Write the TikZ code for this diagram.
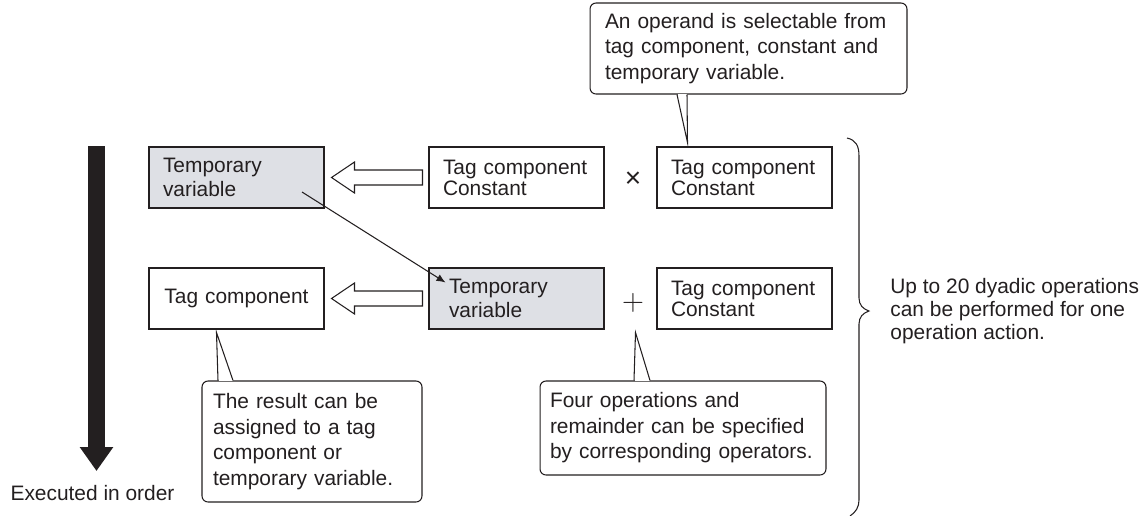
\documentclass[tikz,border=0pt]{standalone}
\usepackage{fontspec}
\setmainfont{Liberation Sans}
\usetikzlibrary{calc,arrows.meta}

\definecolor{ink}{RGB}{35,31,32}
\definecolor{tmpgray}{RGB}{222,224,229}

\tikzset{
  opbox/.style={draw, minimum width=3.5cm, minimum height=1.22cm,
    text width=2.94cm, inner xsep=0.28cm, align=left,
    font=\fontsize{11.9pt}{11.9pt}\selectfont},
  tmpbox/.style={opbox, fill=tmpgray, font=\fontsize{11.9pt}{13.6pt}\selectfont},
  note/.style={draw, fill=white, rounded corners=0.12cm, align=left,
    font=\fontsize{11.9pt}{14.5pt}\selectfont},
  hollow/.style={draw, fill=white, line join=miter},
}

\begin{document}
\begin{tikzpicture}[x=0.02cm,y=-0.02cm,color=ink,line width=0.6pt]
  \useasboundingbox (0,0) rectangle (1143,515);

  % first row
  \node[tmpbox] (T1) at (236.5,177.5) {Temporary\\variable};
  \node[opbox] (C1) at (516.5,177.5) {Tag component\\Constant};
  \node (times) at (633,180) {\fontsize{16pt}{16pt}\selectfont ×};
  \node[opbox] (C2) at (744.5,177.5) {Tag component\\Constant};

  % second row
  \node[opbox,align=center] (R) at (236.5,298.5) {Tag component};
  \node[tmpbox,text width=2.7cm,inner xsep=0.4cm] (T2) at (516.5,298.5) {Temporary\\variable};
  \node (plus) at (633,303) {\fontsize{17pt}{17pt}\selectfont$+$};
  \node[opbox] (C3) at (744.5,298.5) {Tag component\\Constant};

  % assignment arrows
  \foreach \dst/\src in {T1/C1,R/T2}
    \draw[hollow] ($(\src.west)+(-6,-7.5)$) -- ($(\dst.east)+(30,-7.5)$)
      -- ++(0,-8) -- ($(\dst.east)+(7,0)$) -- ++(23,15.5) -- ++(0,-8)
      -- ($(\src.west)+(-6,7.5)$) -- cycle;

  \coordinate (src) at ($(T1.center)+(65.5,14.5)$);
  \draw[-{Latex[length=0.18cm,width=0.15cm]}] (src) -- ($(T2.north west)+(17,15)$);

  % order of execution
  \node (ord) at (92.5,493) {\fontsize{11.9pt}{11.9pt}\selectfont Executed in order};
  \coordinate (otop) at (96.5,146);
  \coordinate (obot) at (96.5,471);
  \draw[line width=0.34cm,-{Triangle[length=0.48cm,width=0.64cm]}] (otop) -- (obot);

  % notes
  \node[note,text width=5.74cm,minimum height=1.82cm,inner xsep=0.3cm] (N1) at (748.5,48.5)
    {An operand is selectable from\\tag component, constant and\\temporary variable.};
  \node[note,text width=3.96cm,minimum height=2.42cm,inner xsep=0.22cm] (N2) at (312,441.5)
    {The result can be\\assigned to a tag\\component or\\temporary variable.};
  \node[note,text width=5.32cm,minimum height=1.88cm,inner xsep=0.2cm] (N3) at (683,428)
    {Four operations and\\remainder can be specified\\by corresponding operators.};

  \coordinate (p1) at ($(C2.north west)+(31,-4)$);
  \coordinate (p2) at ($(R.south west)+(68,3)$);
  \coordinate (p3) at ($(T2.south east)+(31,3)$);
  \fill[white] ($(N1.south)+(-71,-1)$) rectangle ($(N1.south)+(-62,1)$);
  \draw ($(N1.south)+(-71.5,0)$) -- (p1) -- ($(N1.south)+(-61.5,0)$);
  \fill[white] ($(N2.north)+(-93.5,-1)$) rectangle ($(N2.north)+(-79.5,1)$);
  \draw ($(N2.north)+(-94,0)$) -- (p2) -- ($(N2.north)+(-79,0)$);
  \fill[white] ($(N3.north)+(-48.5,-1)$) rectangle ($(N3.north)+(-33.5,1)$);
  \draw ($(N3.north)+(-49,0)$) -- (p3) -- ($(N3.north)+(-33,0)$);

  % brace
  \draw (847,138) .. controls (856,140) and (859,146) .. (859,156) -- (859,298)
    .. controls (859,305) and (863,309) .. (869,311)
    .. controls (863,313) and (859,317) .. (859,324) -- (859,500)
    .. controls (859,507) and (856,512) .. (850,516);
  \node[anchor=west,align=left,font=\fontsize{11.9pt}{13.3pt}\selectfont] (sum) at (884,311)
    {Up to 20 dyadic operations\\can be performed for one\\operation action.};
\end{tikzpicture}
\end{document}
